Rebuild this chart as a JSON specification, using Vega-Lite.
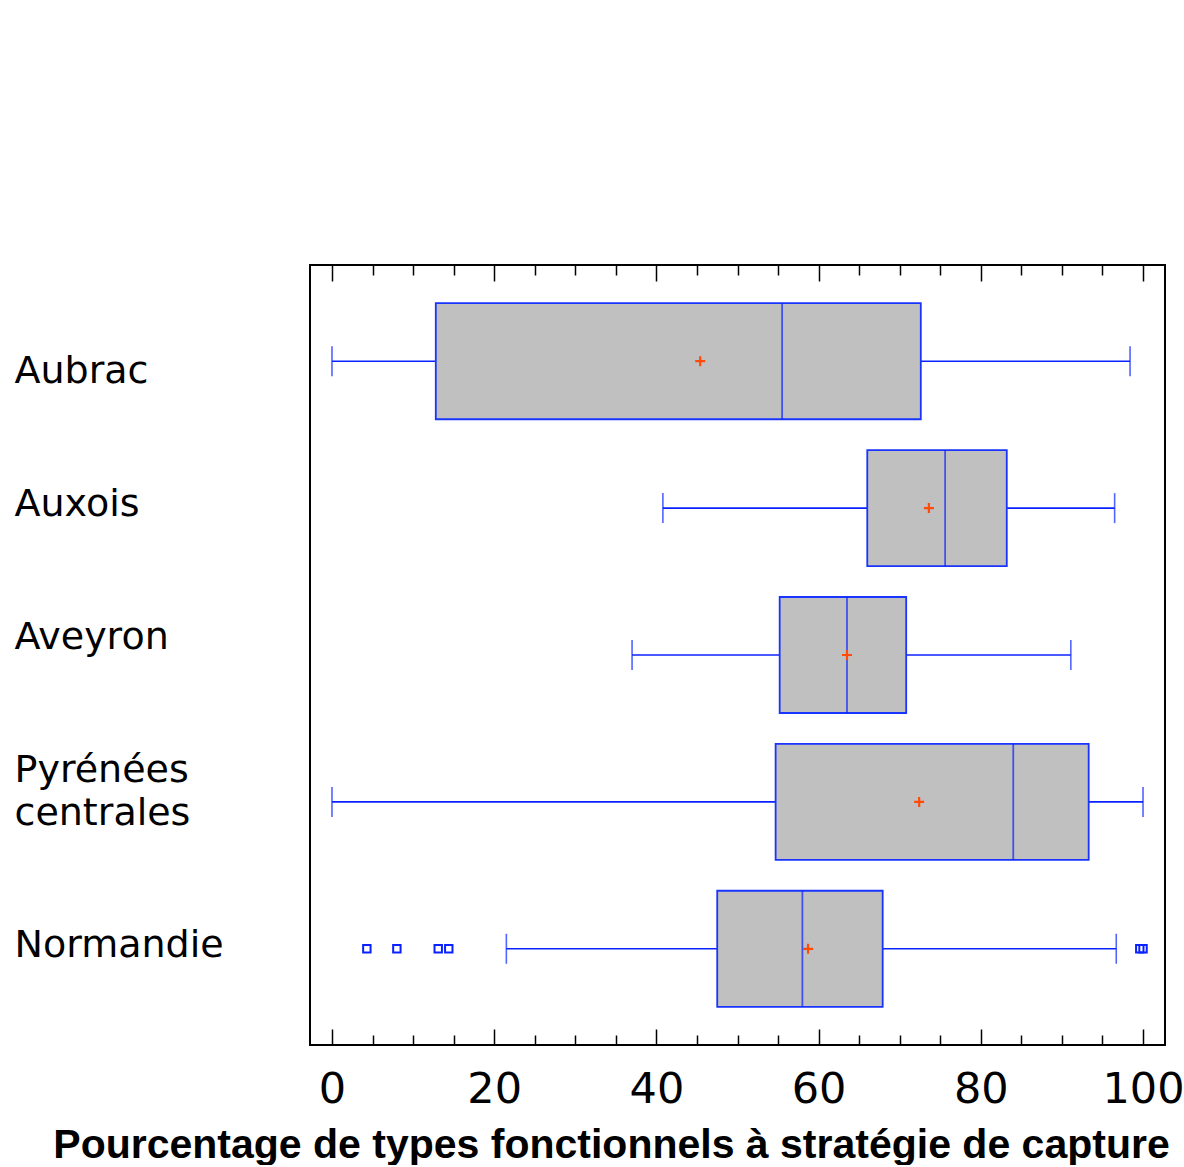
{
  "$schema": "https://vega.github.io/schema/vega-lite/v6.json",
  "width": 855,
  "height": 780,
  "autosize": {"type": "pad"},
  "padding": {"left": 14, "top": 264, "right": 0, "bottom": 0},
  "background": "white",
  "config": {
    "view": {"stroke": "black", "strokeWidth": 2},
    "font": "DejaVu Sans"
  },
  "datasets": {
    "stats": [
      {"site": "Aubrac", "low": 0, "q1": 12.8, "median": 55.5, "q3": 72.6, "high": 98.4, "mean": 45.4},
      {"site": "Auxois", "low": 40.8, "q1": 66.0, "median": 75.6, "q3": 83.2, "high": 96.5, "mean": 73.6},
      {"site": "Aveyron", "low": 37.0, "q1": 55.2, "median": 63.5, "q3": 70.8, "high": 91.1, "mean": 63.5},
      {"site": "Pyrénées centrales", "low": 0, "q1": 54.7, "median": 84.0, "q3": 93.3, "high": 100, "mean": 72.4},
      {"site": "Normandie", "low": 21.5, "q1": 47.5, "median": 58.0, "q3": 67.9, "high": 96.7, "mean": 58.7}
    ],
    "outliers": [
      {"site": "Normandie", "value": 4.3},
      {"site": "Normandie", "value": 8.0},
      {"site": "Normandie", "value": 13.1},
      {"site": "Normandie", "value": 14.4},
      {"site": "Normandie", "value": 99.6},
      {"site": "Normandie", "value": 100}
    ]
  },
  "layer": [
    {
      "data": {"name": "stats"},
      "mark": {"type": "rule", "color": "#0a22ff", "strokeWidth": 1.6},
      "encoding": {
        "y": {
          "field": "site", "type": "nominal",
          "sort": ["Aubrac", "Auxois", "Aveyron", "Pyrénées centrales", "Normandie"],
          "scale": {"type": "band", "paddingInner": 0.21, "paddingOuter": 0.26},
          "axis": {
            "orient": "left",
            "title": null,
            "ticks": false,
            "domain": false,
            "labelAlign": "left",
            "labelBaseline": "middle",
            "labelPadding": 296,
            "labelFont": "DejaVu Sans",
            "labelFontSize": 38,
            "labelColor": "black",
            "labelLineHeight": 43,
            "labelLimit": 0,
            "labelExpr": "split(datum.value, ' ')",
            "labelOffset": {
              "condition": [
                {"test": "datum.value === 'Aubrac'", "value": 11},
                {"test": "datum.value === 'Aveyron'", "value": -17},
                {"test": "datum.value === 'Pyrénées centrales'", "value": -31}
              ],
              "value": -3
            }
          }
        },
        "x": {
          "field": "low", "type": "quantitative",
          "scale": {"domain": [-2.71, 102.71], "nice": false, "zero": false},
          "axis": {
            "orient": "bottom",
            "values": [0, 5, 10, 15, 20, 25, 30, 35, 40, 45, 50, 55, 60, 65, 70, 75, 80, 85, 90, 95, 100],
            "format": "d",
            "tickSize": {"condition": {"test": "datum.value % 20 === 0", "value": -16}, "value": -10},
            "tickColor": "black",
            "tickWidth": 1.5,
            "domain": false,
            "grid": false,
            "labelExpr": "datum.value % 20 === 0 ? datum.label : ''",
            "labelFont": "DejaVu Sans",
            "labelFontSize": 43,
            "labelColor": "black",
            "labelBaseline": "top",
            "labelPadding": 39,
            "labelFlush": false,
            "labelOverlap": false,
            "title": "Pourcentage de types fonctionnels à stratégie de capture",
            "titleFont": "Liberation Sans",
            "titleFontWeight": "bold",
            "titleFontSize": 41,
            "titleColor": "black",
            "titleAlign": "center",
            "titleBaseline": "alphabetic",
            "titleX": 301,
            "titleY": 112
          }
        },
        "x2": {"field": "high"}
      }
    },
    {
      "data": {"name": "stats"},
      "mark": {"type": "tick", "color": "#0a22ff", "thickness": 1.6, "size": 30},
      "encoding": {
        "y": {"field": "site", "type": "nominal", "sort": ["Aubrac", "Auxois", "Aveyron", "Pyrénées centrales", "Normandie"]},
        "x": {
          "field": "low", "type": "quantitative",
          "axis": {
            "orient": "top",
            "values": [0, 5, 10, 15, 20, 25, 30, 35, 40, 45, 50, 55, 60, 65, 70, 75, 80, 85, 90, 95, 100],
            "tickSize": {"condition": {"test": "datum.value % 20 === 0", "value": -16}, "value": -10},
            "tickColor": "black",
            "tickWidth": 1.5,
            "domain": false,
            "grid": false,
            "labels": false,
            "title": null
          }
        }
      }
    },
    {
      "data": {"name": "stats"},
      "mark": {"type": "tick", "color": "#0a22ff", "thickness": 1.6, "size": 30},
      "encoding": {
        "y": {"field": "site", "type": "nominal", "sort": ["Aubrac", "Auxois", "Aveyron", "Pyrénées centrales", "Normandie"]},
        "x": {"field": "high", "type": "quantitative", "axis": null}
      }
    },
    {
      "data": {"name": "stats"},
      "mark": {"type": "bar", "fill": "#c0c0c0", "stroke": "#1a34ff", "strokeWidth": 1.8},
      "encoding": {
        "y": {"field": "site", "type": "nominal", "sort": ["Aubrac", "Auxois", "Aveyron", "Pyrénées centrales", "Normandie"]},
        "x": {"field": "q1", "type": "quantitative", "axis": null},
        "x2": {"field": "q3"}
      }
    },
    {
      "data": {"name": "stats"},
      "mark": {"type": "tick", "color": "#0a22ff", "thickness": 1.8, "size": 116},
      "encoding": {
        "y": {"field": "site", "type": "nominal", "sort": ["Aubrac", "Auxois", "Aveyron", "Pyrénées centrales", "Normandie"]},
        "x": {"field": "median", "type": "quantitative", "axis": null}
      }
    },
    {
      "data": {"name": "stats"},
      "mark": {"type": "point", "shape": "M-1,0H1M0,-1V1", "filled": false, "stroke": "#ff4a0a", "strokeWidth": 2.2, "size": 100, "opacity": 1},
      "encoding": {
        "y": {"field": "site", "type": "nominal", "sort": ["Aubrac", "Auxois", "Aveyron", "Pyrénées centrales", "Normandie"]},
        "x": {"field": "mean", "type": "quantitative", "axis": null}
      }
    },
    {
      "data": {"name": "outliers"},
      "mark": {"type": "point", "shape": "square", "filled": false, "stroke": "#0a22ff", "strokeWidth": 2, "size": 55, "opacity": 1},
      "encoding": {
        "y": {"field": "site", "type": "nominal", "sort": ["Aubrac", "Auxois", "Aveyron", "Pyrénées centrales", "Normandie"]},
        "x": {"field": "value", "type": "quantitative", "axis": null}
      }
    }
  ],
  "resolve": {"axis": {"x": "independent"}}
}
